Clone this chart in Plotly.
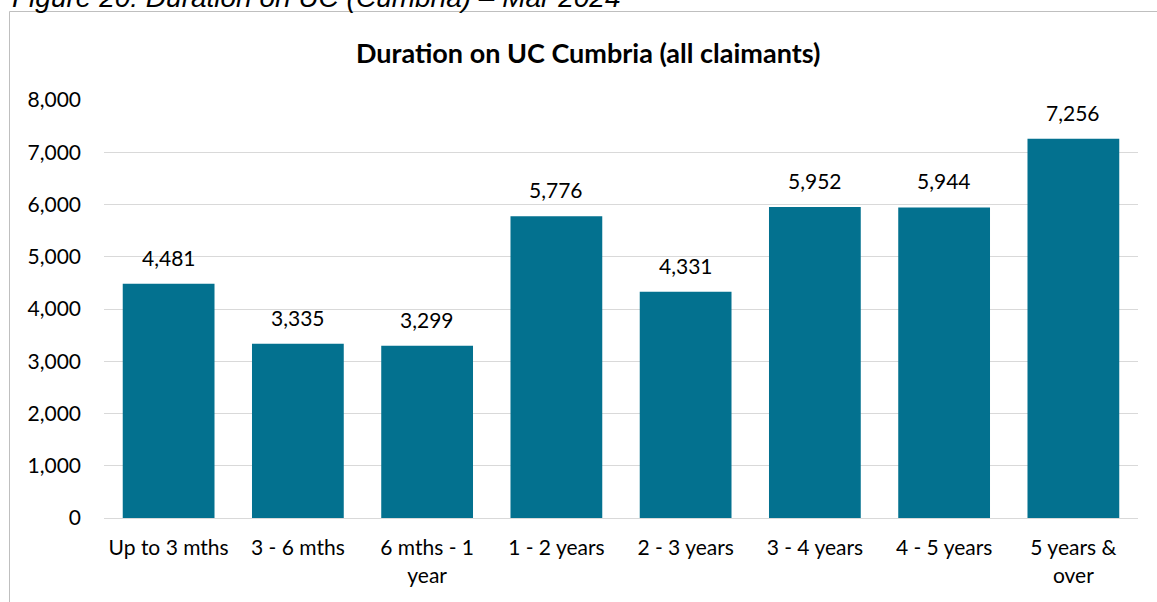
import plotly.graph_objects as go

categories = ["Up to 3 mths", "3 - 6 mths", "6 mths - 1<br>year", "1 - 2 years", "2 - 3 years",
              "3 - 4 years", "4 - 5 years", "5 years &<br>over"]
values = [4481, 3335, 3299, 5776, 4331, 5952, 5944, 7256]
value_labels = ["4,481", "3,335", "3,299", "5,776", "4,331", "5,952", "5,944", "7,256"]
tick_vals = [0, 1000, 2000, 3000, 4000, 5000, 6000, 7000, 8000]
tick_text = ["0", "1,000", "2,000", "3,000", "4,000", "5,000", "6,000", "7,000", "8,000"]

FONT = "Lato, 'Open Sans', sans-serif"
W, H = 1157, 602
ML, MR, MT, MB = 104, 19, 100, 84
pw = W - ML - MR
ph = H - MT - MB


def px_x(p):
    return (p - ML) / pw


def px_y(p):
    return (H - MB - p) / ph


fig = go.Figure(go.Bar(
    x=categories, y=values,
    marker=dict(color="#03718F", line=dict(width=0)),
    hoverinfo="x+y",
))

annotations = [
    dict(x=c, y=v, xref="x", yref="y", text=t, showarrow=False,
         yanchor="bottom", yshift=12,
         font=dict(size=21, family=FONT, color="#000000"))
    for c, v, t in zip(categories, values, value_labels)
]
annotations.append(dict(
    text="<b>Duration on UC Cumbria (all claimants)</b>", x=px_x(588), xref="paper",
    y=px_y(53), yref="paper", yanchor="middle", showarrow=False,
    font=dict(size=27, family=FONT, color="#000000")))
annotations.append(dict(
    text="<i>Figure 20: Duration on UC (Cumbria) – Mar 2024</i>", x=px_x(10), xref="paper",
    y=px_y(15), yref="paper", xanchor="left", yanchor="bottom", showarrow=False,
    font=dict(size=28, family="'Liberation Sans', Arial, sans-serif", color="#000000")))

fig.update_layout(
    width=W, height=H,
    margin=dict(l=ML, r=MR, t=MT, b=MB, autoexpand=False),
    paper_bgcolor="white", plot_bgcolor="white",
    bargap=0.29,
    showlegend=False,
    font=dict(family=FONT, size=21, color="#000000"),
    xaxis=dict(showgrid=False, showline=True, linecolor="#D9D9D9", linewidth=1,
               tickfont=dict(size=21, family=FONT), ticks="", ticklabelstandoff=11,
               automargin=False),
    yaxis=dict(range=[0, 8000], tickvals=tick_vals, ticktext=tick_text,
               showgrid=True, gridcolor="#D9D9D9", gridwidth=1, zeroline=False,
               tickfont=dict(size=21, family=FONT), ticks="", ticklabelstandoff=22,
               automargin=False),
    annotations=annotations,
)

fig.add_shape(type="rect", xref="paper", yref="paper",
              x0=px_x(9.5), x1=px_x(1180), y0=px_y(640), y1=px_y(11.5),
              line=dict(color="#BFBFBF", width=1), fillcolor="rgba(0,0,0,0)", layer="below")

fig.write_html("out.html", config={"displayModeBar": False},
               post_script="document.body.style.margin='0';document.body.style.padding='0';")
